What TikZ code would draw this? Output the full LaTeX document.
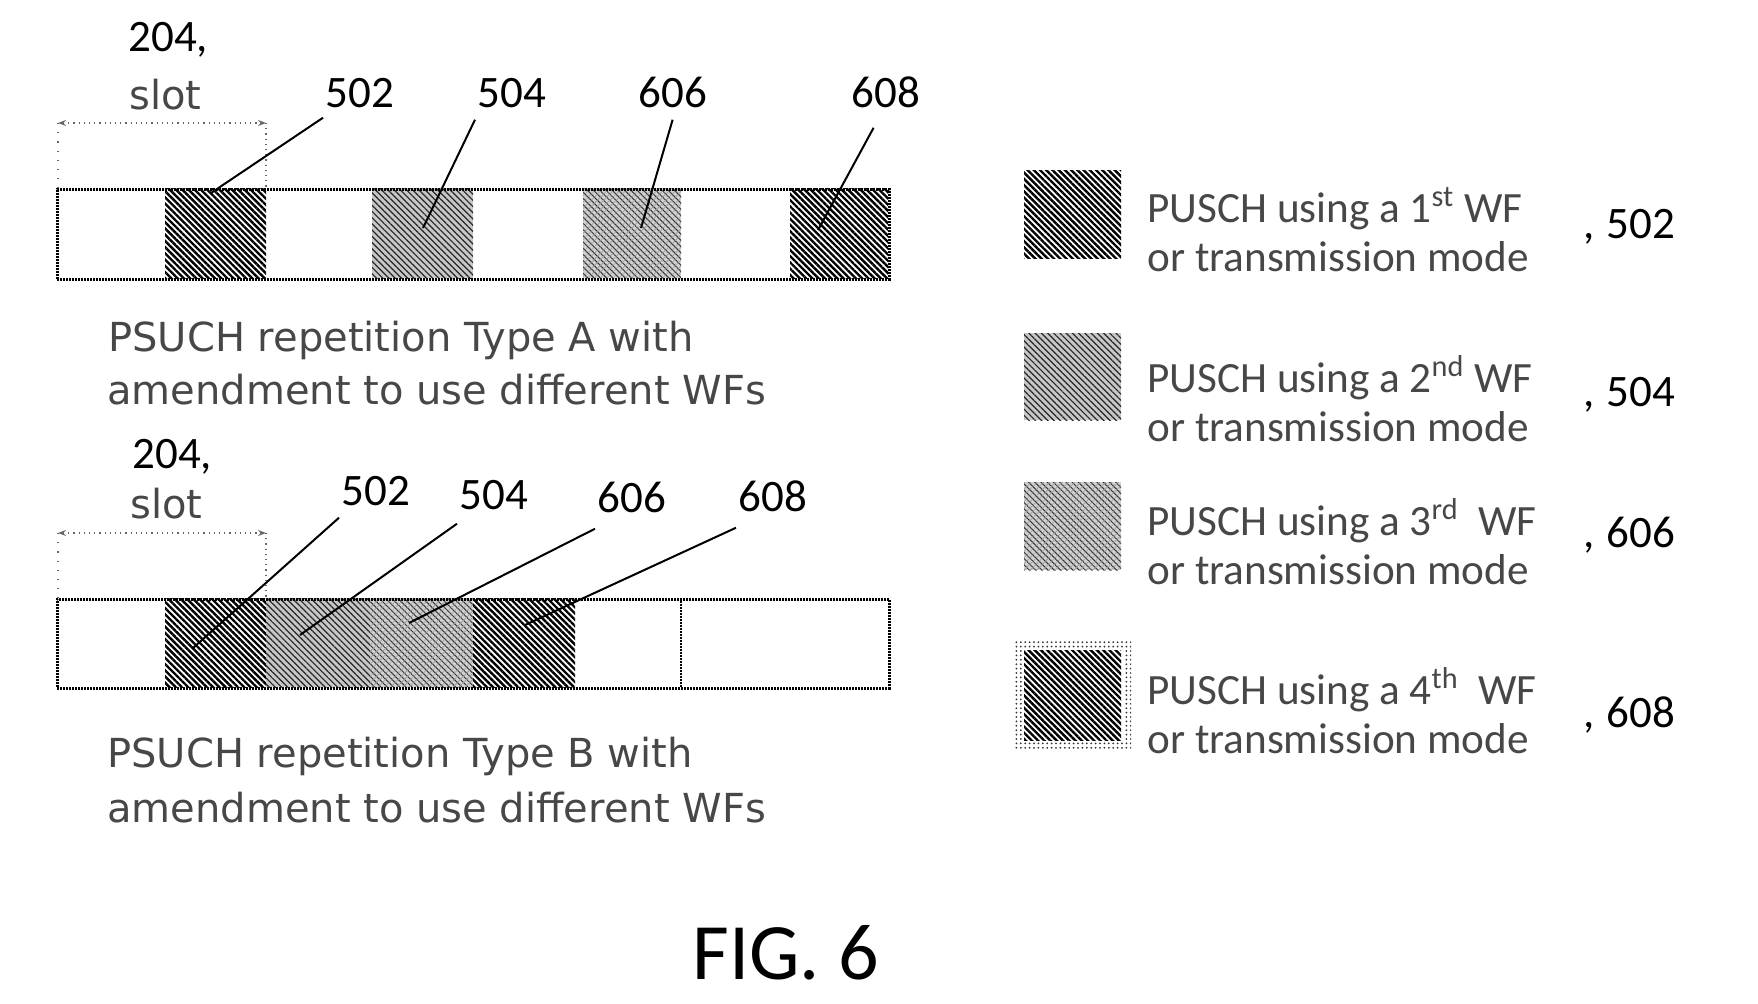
\documentclass[tikz,border=0pt]{standalone}
\usepackage{fontspec}
\usetikzlibrary{patterns,patterns.meta,arrows.meta}
\newfontfamily\numfont{Carlito}
\newfontfamily\capfont{DejaVu Sans}
\begin{document}
\begin{tikzpicture}[x=0.5pt,y=-0.5pt,
  numtext/.style={font=\numfont\fontsize{22.5pt}{26pt}\selectfont, anchor=base west, inner sep=1pt},
  captext/.style={font=\capfont\fontsize{20pt}{26pt}\selectfont, text=black!72, anchor=base west, inner sep=0pt},
  legtext/.style={font=\numfont\fontsize{21.6pt}{26pt}\selectfont, text=black!72, anchor=base west, inner sep=0pt},
  darkfill/.style={pattern={Lines[angle=-45,distance=2.2pt,line width=1.2pt]}, pattern color=black},
  midfill/.style={preaction={fill=black!22}, pattern={Lines[angle=-45,distance=2.2pt,line width=0.6pt]}, pattern color=black!85},
  lightfill/.style={preaction={fill=black!18}, pattern={Lines[angle=-45,distance=2.2pt,line width=0.5pt]}, pattern color=black!80,
     postaction={pattern={Lines[angle=45,distance=2.2pt,line width=0.3pt]}, pattern color=black!40}},
  outlinebox/.style={draw=black, line width=1.3pt, dash pattern=on 1pt off 0.5pt},
  bracketline/.style={draw=black!60, line width=0.6pt, dotted},
  leaderline/.style={draw=black, line width=1pt}]
\useasboundingbox (0,0) rectangle (1758,1003);

% ---------- Row A ----------
\path[darkfill]  (165,188) rectangle (266,278);
\path[midfill]   (372,188) rectangle (473,278);
\path[lightfill] (583,188) rectangle (681,278);
\path[darkfill]  (790,188) rectangle (888,278);
\node[outlinebox, minimum width=416pt, minimum height=45pt, inner sep=0pt, anchor=north west] (rowA) at (56,188) {};

\node[numtext] (a204) at (126,51) {204,};
\node[captext] (aslot) at (129,109) {slot};
\coordinate (abl) at (58,123);
\coordinate (abr) at (266,123);
\draw[bracketline, {Stealth[length=4pt,open]}-{Stealth[length=4pt,open]}] (abl) -- (abr);
\draw[bracketline] (abr) -- (rowA.north west -| abr);
\draw[bracketline, loosely dotted] (abl) -- (rowA.north west -| abl);

\node[numtext] (a502) at (323,107) {502};
\node[numtext] (a504) at (475,107) {504};
\node[numtext] (a606) at (636,107) {606};
\node[numtext] (a608) at (849,107) {608};
\coordinate (ea502) at (211,193);
\coordinate (ea504) at (423,228);
\coordinate (ea606) at (641,228);
\coordinate (ea608) at (818,230);
\draw[leaderline] ([yshift=-4pt]a502.south west) -- (ea502);
\draw[leaderline] ([yshift=-5pt]a504.south west) -- (ea504);
\draw[leaderline] ([yshift=-5pt]a606.south) -- (ea606);
\draw[leaderline] ([xshift=-6pt,yshift=-9pt]a608.south) -- (ea608);

\node[captext] (capA1) at (108,351) {PSUCH repetition Type A with};
\node[captext] (capA2) at (107,404) {amendment to use different WFs};

% ---------- Row B ----------
\path[darkfill]  (165,598) rectangle (266,687);
\path[midfill]   (266,598) rectangle (370,687);
\path[lightfill] (370,598) rectangle (473,687);
\path[darkfill]  (473,598) rectangle (575,687);
\node[outlinebox, minimum width=416pt, minimum height=44.5pt, inner sep=0pt, anchor=north west] (rowB) at (56,598) {};
\draw[outlinebox] (681,598) -- (681,687);

\node[numtext] (b204) at (130,468) {204,};
\node[captext] (bslot) at (130,518) {slot};
\coordinate (bbl) at (58,533);
\coordinate (bbr) at (266,533);
\draw[bracketline, {Stealth[length=4pt,open]}-{Stealth[length=4pt,open]}] (bbl) -- (bbr);
\draw[bracketline] (bbr) -- (rowB.north west -| bbr);
\draw[bracketline, loosely dotted] (bbl) -- (rowB.north west -| bbl);

\node[numtext] (b502) at (339,505) {502};
\node[numtext] (b504) at (457,509) {504};
\node[numtext] (b606) at (595,512) {606};
\node[numtext] (b608) at (736,511) {608};
\coordinate (eb502) at (193,648);
\coordinate (eb504) at (300,635);
\coordinate (eb606) at (409,623);
\coordinate (eb608) at (525,625);
\draw[leaderline] ([yshift=-5pt]b502.south west) -- (eb502);
\draw[leaderline] ([yshift=-6pt]b504.south west) -- (eb504);
\draw[leaderline] ([yshift=-7pt]b606.south west) -- (eb606);
\draw[leaderline] ([yshift=-7pt]b608.south west) -- (eb608);

\node[captext] (capB1) at (107,767) {PSUCH repetition Type B with};
\node[captext] (capB2) at (107,822) {amendment to use different WFs};

% ---------- Legend ----------
\path[darkfill]  (1024,170) rectangle (1121,258);
\path[midfill]   (1024,333) rectangle (1121,420);
\path[lightfill] (1024,482) rectangle (1121,570);
\path[pattern={Dots[distance=2.2pt,radius=0.5pt]}, pattern color=black!80] (1014,640) rectangle (1131,750);
\path[fill=white] (1022,648) rectangle (1123,742);
\path[darkfill]  (1024,650) rectangle (1121,740);

\node[legtext] (t1a) at (1147,222) {PUSCH using a 1\textsuperscript{st} WF};
\node[legtext] (t1b) at (1147,271) {or transmission mode};
\node[numtext] (n1) at (1581,238) {,\hspace{6pt}502};

\node[legtext] (t2a) at (1147,392) {PUSCH using a 2\textsuperscript{nd} WF};
\node[legtext] (t2b) at (1147,441) {or transmission mode};
\node[numtext] (n2) at (1581,406) {,\hspace{6pt}504};

\node[legtext] (t3a) at (1147,535) {PUSCH using a 3\textsuperscript{rd}\ \ WF};
\node[legtext] (t3b) at (1147,584) {or transmission mode};
\node[numtext] (n3) at (1581,547) {,\hspace{6pt}606};

\node[legtext] (t4a) at (1147,704) {PUSCH using a 4\textsuperscript{th}\ \ WF};
\node[legtext] (t4b) at (1147,753) {or transmission mode};
\node[numtext] (n4) at (1581,727) {,\hspace{6pt}608};

% ---------- Title ----------
\node[font=\numfont\fontsize{40pt}{44pt}\selectfont, anchor=base west, inner sep=0pt] (fig) at (692,979) {FIG. 6};
\end{tikzpicture}
\end{document}
